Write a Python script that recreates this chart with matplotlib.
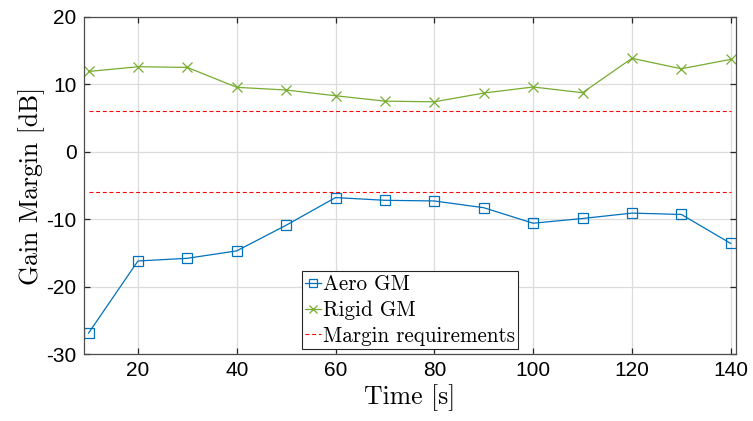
import matplotlib
matplotlib.use('Agg')
import matplotlib.pyplot as plt

# time samples [s]
time = [10, 20, 30, 40, 50, 60, 70, 80, 90, 100, 110, 120, 130, 140]

# gain margins [dB]
aero_gm = [-26.9, -16.2, -15.8, -14.7, -10.9, -6.8, -7.2, -7.3, -8.3, -10.6, -9.9, -9.1, -9.3, -13.6]
rigid_gm = [11.9, 12.6, 12.5, 9.55, 9.15, 8.3, 7.5, 7.4, 8.7, 9.6, 8.75, 13.85, 12.3, 13.7]

# +/- margin requirement [dB]
margin_req = 6.0

plt.rcParams['axes.unicode_minus'] = False
serif = 'cmr10'

fig = plt.figure(figsize=(7.53, 4.21), dpi=100)
ax = fig.add_axes([0.111, 0.159, 0.866, 0.801])

ax.plot(time, aero_gm, color='#0072BD', lw=0.9, marker='s', ms=6.5,
        mfc='none', mew=0.9, label='Aero GM')
ax.plot(time, rigid_gm, color='#77AC30', lw=0.9, marker='x', ms=7,
        mew=0.9, label='Rigid GM')
ax.plot([time[0], time[-1]], [margin_req, margin_req], color='red', lw=0.8,
        dashes=(3.5, 2.5), label='Margin requirements')
ax.plot([time[0], time[-1]], [-margin_req, -margin_req], color='red', lw=0.8,
        dashes=(3.5, 2.5))

ax.set_xlim(9, 141)
ax.set_ylim(-30, 20)
ax.set_xticks(range(20, 141, 20))
ax.set_yticks(range(-30, 21, 10))
ax.grid(True, color='#dcdcdc', lw=0.9)
ax.set_axisbelow(True)

for s in ax.spines.values():
    s.set_color('#4d4d4d')
    s.set_linewidth(0.9)
ax.tick_params(direction='in', length=4.5, width=0.9, top=True, right=True,
               colors='#262626', labelcolor='black', labelsize=15, pad=5)
for lab in ax.get_xticklabels() + ax.get_yticklabels():
    lab.set_family('Liberation Sans')

ax.set_xlabel('Time [s]', family=serif, fontsize=18.5, labelpad=3)
ax.set_ylabel('Gain Margin [dB]', family=serif, fontsize=18.5, labelpad=1)

leg = ax.legend(loc='lower left', bbox_to_anchor=(0.335, 0.015),
                prop={'family': serif, 'size': 15.2}, handlelength=0.75,
                handletextpad=0.1, borderpad=0.15, labelspacing=0.3,
                borderaxespad=0, fancybox=False, framealpha=1,
                markerscale=0.8, edgecolor='#262626')
leg.get_frame().set_linewidth(0.8)

fig.savefig('out.png', dpi=100)
